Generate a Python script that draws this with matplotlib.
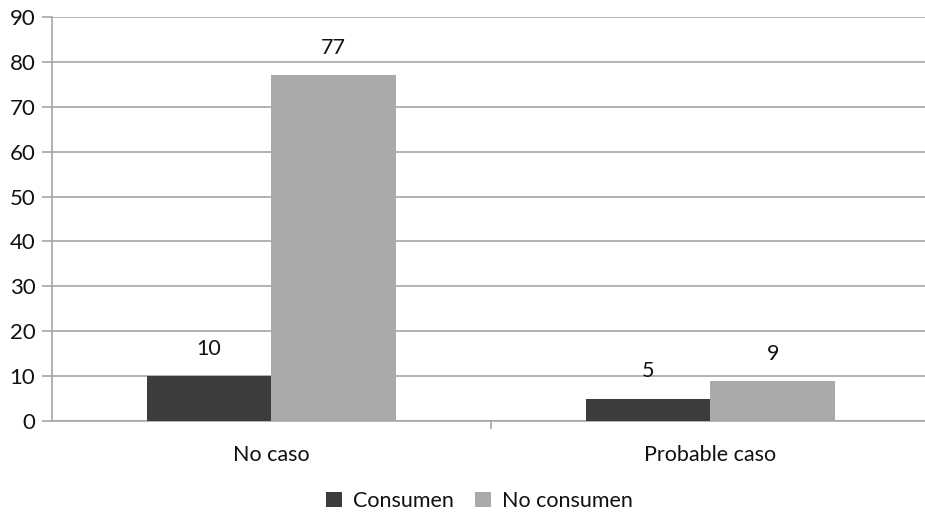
import numpy as np
import matplotlib.pyplot as plt

plt.rcParams['font.family'] = ['Lato', 'DejaVu Sans']

categorias = ['No caso', 'Probable caso']
consumen = [10, 5]
no_consumen = [77, 9]

fig = plt.figure(figsize=(9.25, 5.14), dpi=100)
ax = fig.add_axes([0.0562, 0.181, 0.949, 0.786])

x = np.arange(len(categorias))
w = 0.284
b1 = ax.bar(x - w/2, consumen, w, color='#3c3c3c', label='Consumen', zorder=3)
b2 = ax.bar(x + w/2, no_consumen, w, color='#aaaaaa', label='No consumen', zorder=3)

for bars, vals in ((b1, consumen), (b2, no_consumen)):
    for r, v in zip(bars, vals):
        ax.text(r.get_x() + r.get_width()/2, v + 3.8, str(v), ha='center', va='bottom',
                fontsize=15.5, color='#111111')

ax.set_xlim(-0.5, 1.5)
ax.set_ylim(0, 90)
ax.set_yticks(range(0, 91, 10))
ax.yaxis.grid(True, color='#a6a6a6', linewidth=1.2, zorder=0)
ax.set_axisbelow(True)

ax.set_xticks(x)
ax.set_xticklabels(categorias)
ax.tick_params(axis='x', length=0, pad=17, labelsize=15.5, labelcolor='#111111')
ax.set_xticks([0.5], minor=True)
ax.tick_params(axis='x', which='minor', length=6, color='#a6a6a6', width=1.2)
ax.tick_params(axis='y', length=7, color='#a6a6a6', width=1.2, labelsize=16, pad=5,
               labelcolor='#111111')

for s in ('top', 'right'):
    ax.spines[s].set_visible(False)
for s in ('left', 'bottom'):
    ax.spines[s].set_color('#a6a6a6')
    ax.spines[s].set_linewidth(1.2)

fig.legend(loc='lower center', bbox_to_anchor=(0.518, -0.032), ncol=2, frameon=False,
           fontsize=15.5, handlelength=0.75, handleheight=0.75, handletextpad=0.5,
           columnspacing=1.0, labelcolor='#111111')

fig.savefig('out.png', dpi=100)
